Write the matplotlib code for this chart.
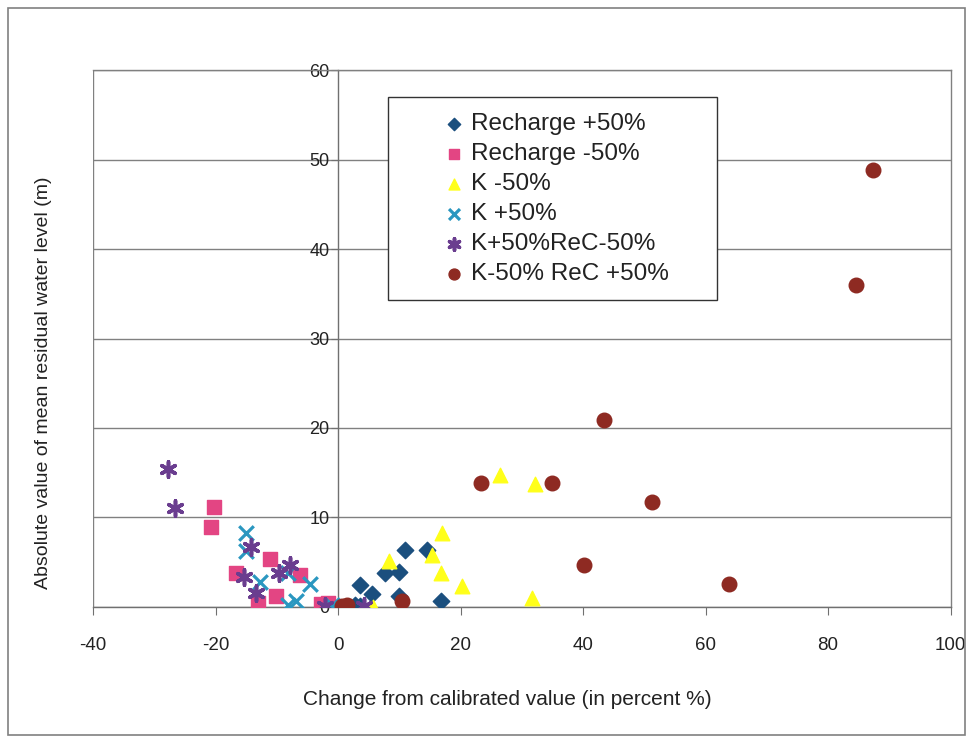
import matplotlib
matplotlib.use("Agg")
import matplotlib.pyplot as plt
from matplotlib.patches import Rectangle

plt.rcParams['font.family'] = ['Liberation Sans', 'DejaVu Sans']
plt.rcParams['axes.unicode_minus'] = False

# data: (change %, abs mean residual m)
rech_up_x = [3.6, 5.6, 7.7, 10.0, 10.9, 14.5, 10.0, 16.8, 2.8, 3.6]
rech_up_y = [2.4, 1.4, 3.8, 3.9, 6.4, 6.4, 1.2, 0.7, 0.2, 0.1]

rech_dn_x = [-20.2, -20.8, -11.1, -16.7, -6.2, -10.1, -13.0, -2.8, -1.6]
rech_dn_y = [11.2, 8.9, 5.4, 3.8, 3.6, 1.2, 0.4, 0.3, 0.4]

k_dn_x = [16.9, 15.4, 8.4, 16.8, 20.2, 5.7, 26.4, 32.2, 31.6]
k_dn_y = [8.2, 5.8, 5.1, 3.8, 2.3, 0.0, 14.7, 13.7, 1.0]

k_up_x = [-15.0, -15.0, -8.1, -12.7, -4.5, -8.1, -6.8, -1.0]
k_up_y = [8.2, 6.2, 3.8, 2.8, 2.6, 0.2, 0.6, 0.2]

kup_rdn_x = [-27.7, -26.6, -14.2, -7.8, -15.4, -9.7, -13.4, -2.2, 4.2]
kup_rdn_y = [15.4, 11.1, 6.7, 4.7, 3.3, 3.8, 1.5, 0.1, 0.1]

kdn_rup_x = [23.3, 35.0, 43.4, 51.3, 40.1, 63.9, 87.3, 84.5, 10.5, 0.6, 1.4]
kdn_rup_y = [13.9, 13.9, 20.9, 11.7, 4.7, 2.5, 48.9, 36.0, 0.7, 0.1, 0.2]

fig = plt.figure(figsize=(9.69, 7.40), dpi=100)
ax = fig.add_axes([0.096, 0.180, 0.885, 0.725])

# outer border of the figure
fig.patches.append(Rectangle((0.008, 0.007), 0.988, 0.982, transform=fig.transFigure,
                             fill=False, edgecolor='#808080', linewidth=1.2))

ax.scatter(rech_up_x, rech_up_y, marker='D', s=70, color='#1b4f7e', label='Recharge +50%', zorder=3)
ax.scatter(rech_dn_x, rech_dn_y, marker='s', s=95, color='#e34583', label='Recharge -50%', zorder=3)
ax.scatter(k_dn_x, k_dn_y, marker='^', s=110, color='#ffff1a', label='K -50%', zorder=3)
ax.scatter(k_up_x, k_up_y, marker='x', s=110, color='#2a97c0', linewidths=2.3, label='K +50%', zorder=3)
ax.scatter(kup_rdn_x, kup_rdn_y, marker=(6, 2, 0), s=120, color='#6a3d8f', linewidths=2.6,
           label='K+50%ReC-50%', zorder=3)
ax.scatter(kdn_rup_x, kdn_rup_y, marker='o', s=110, color='#8e2a22', label='K-50% ReC +50%', zorder=3)

ax.set_xlim(-40, 100)
ax.set_ylim(0, 60)
ax.set_xticks(range(-40, 101, 20))
ax.set_yticks(range(0, 61, 10))

ax.grid(axis='y', color='#808080', linewidth=1.0, zorder=0)
ax.set_axisbelow(True)

ax.spines['left'].set_position(('data', 0))
for sp in ax.spines.values():
    sp.set_color('#707070')
    sp.set_linewidth(1.0)
ax.spines['right'].set_color('#808080')
ax.spines['top'].set_color('#808080')
ax.axvline(-40, color='#808080', linewidth=1.0)

ax.tick_params(axis='x', direction='out', length=6, pad=16, labelsize=13.5, colors='#707070',
               labelcolor='#222222')
ax.tick_params(axis='y', direction='out', length=5, pad=1, labelsize=13, colors='#707070',
               labelcolor='#222222')

ax.set_xlabel('Change from calibrated value (in percent %)', fontsize=15, color='#222222')
ax.set_ylabel('Absolute value of mean residual water level (m)', fontsize=14, color='#222222')
ax.xaxis.set_label_coords(0.483, -0.155)
ax.yaxis.set_label_coords(-0.048, 0.417)

# legend box drawn by hand, legend entries inside
ax.add_patch(Rectangle((0.344, 0.572), 0.384, 0.378, transform=ax.transAxes,
                       facecolor='white', edgecolor='#333333', linewidth=1.0, zorder=4))
leg = ax.legend(loc='upper left', bbox_to_anchor=(0.395, 0.938), frameon=False,
                fontsize=17.5, handletextpad=0.2, labelspacing=0.33, handlelength=1.0,
                markerscale=0.75, borderaxespad=0)
leg.set_zorder(5)
for txt in leg.get_texts():
    txt.set_color('#222222')

fig.savefig('out.png', dpi=100)
